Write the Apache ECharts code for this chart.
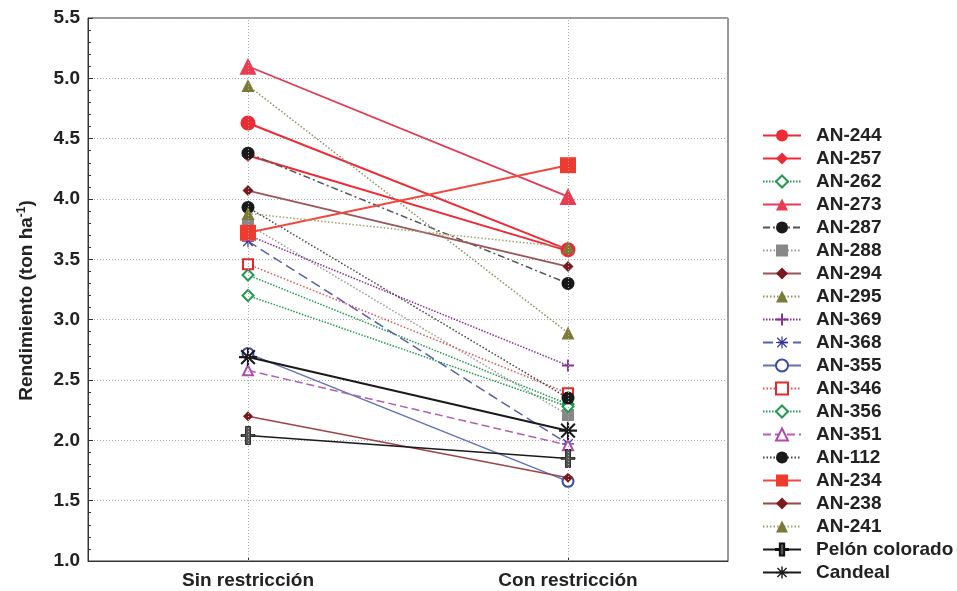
<!DOCTYPE html>
<html><head><meta charset="utf-8">
<script src="https://cdn.jsdelivr.net/npm/echarts@6/dist/echarts.min.js"></script>
<style>html,body{margin:0;padding:0;background:#fff}#c{width:957px;height:591px}</style>
</head><body><div id="c"></div>
<script>
const categories = ['Sin restricción', 'Con restricción'];
const yTicks = [1.0, 1.5, 2.0, 2.5, 3.0, 3.5, 4.0, 4.5, 5.0, 5.5];
const names = ['AN-244','AN-257','AN-262','AN-273','AN-287','AN-288','AN-294','AN-295','AN-369','AN-368','AN-355','AN-346','AN-356','AN-351','AN-112','AN-234','AN-238','AN-241','Pelón colorado','Candeal'];
const an244 = [4.63, 3.58];
const an257 = [4.36, 3.57];
const an262 = [3.37, 2.30];
const an273 = [5.10, 4.02];
const an287 = [4.38, 3.30];
const an288 = [3.79, 2.21];
const an294 = [4.07, 3.44];
const an295 = [4.94, 2.89];
const an369 = [3.70, 2.62];
const an368 = [3.65, 1.97];
const an355 = [2.72, 1.66];
const an346 = [3.46, 2.39];
const an356 = [3.20, 2.28];
const an351 = [2.58, 1.96];
const an112 = [3.93, 2.35];
const an234 = [3.72, 4.28];
const an238 = [2.20, 1.69];
const an241 = [3.88, 3.60];
const pelon = [2.04, 1.85];
const candeal = [2.69, 2.08];
const values = [an244, an257, an262, an273, an287, an288, an294, an295, an369, an368, an355, an346, an356, an351, an112, an234, an238, an241, pelon, candeal];

const PLUS = 'path://M4.2,0 L5.8,0 L5.8,4.2 L10,4.2 L10,5.8 L5.8,5.8 L5.8,10 L4.2,10 L4.2,5.8 L0,5.8 L0,4.2 L4.2,4.2 Z';
const STAR = 'path://M4.5,0 L5.5,0 L5.5,10 L4.5,10 Z M0,4.5 L10,4.5 L10,5.5 L0,5.5 Z M0.7,1.4 L1.4,0.7 L9.3,8.6 L8.6,9.3 Z M8.6,0.7 L9.3,1.4 L1.4,9.3 L0.7,8.6 Z';
const STAR6 = 'path://M4.4,0 L5.6,0 L5.6,10 L4.4,10 Z M0,4.4 L10,4.4 L10,5.6 L0,5.6 Z M0.8,1.6 L1.6,0.8 L9.2,8.4 L8.4,9.2 Z M8.4,0.8 L9.2,1.6 L1.6,9.2 L0.8,8.4 Z';
const PELON = 'path://M3.2,0 L6.8,0 L6.8,4.5 L10,4.5 L10,5.5 L6.8,5.5 L6.8,10 L3.2,10 L3.2,5.5 L0,5.5 L0,4.5 L3.2,4.5 Z';

const styles = [
  {c:'#ee2a35', lc:'#ee2a35', t:'solid', w:2, s:'circle'},
  {c:'#ee2a35', lc:'#ee2a35', t:'solid', w:2, s:'diamond'},
  {c:'#1f9a4e', lc:'#1f9a4e', t:[1.5,1.5], w:1.5, s:'emptyDiamond'},
  {c:'#ee3a50', lc:'#e33a55', t:'solid', w:1.8, s:'triangle'},
  {c:'#1a1a1a', lc:'#555', t:[7,3,2,3], w:1.5, s:'circle'},
  {c:'#888', lc:'#999', t:[1.5,2], w:1.5, s:'rect'},
  {c:'#7a1a1f', lc:'#9b5555', t:'solid', w:1.8, s:'diamond'},
  {c:'#7b7b36', lc:'#8f8f60', t:[1.5,2], w:1.5, s:'triangle'},
  {c:'#8a2c98', lc:'#8a2c98', t:[1.5,1.5], w:1.5, s:PLUS},
  {c:'#33379c', lc:'#5a5eb0', t:[10,5], w:1.5, s:STAR},
  {c:'#3a4aa8', lc:'#6070b8', t:'solid', w:1.3, s:'emptyCircle'},
  {c:'#e02a30', lc:'#e05050', t:[1.5,2], w:1.5, s:'emptyRect'},
  {c:'#1f9a4e', lc:'#1f9a4e', t:[1.5,1.5], w:1.5, s:'emptyDiamond'},
  {c:'#b04ab0', lc:'#b060b0', t:[8,4], w:1.5, s:'emptyTriangle'},
  {c:'#1a1a1a', lc:'#444', t:[1.5,2], w:1.5, s:'circle'},
  {c:'#f03a30', lc:'#f04a40', t:'solid', w:2, s:'rect'},
  {c:'#7a1a1f', lc:'#9b4545', t:'solid', w:1.5, s:'diamond'},
  {c:'#7b7b36', lc:'#a0a070', t:[1.5,2], w:1.5, s:'triangle'},
  {c:'#555', lc:'#1a1a1a', t:'solid', w:1.5, s:PELON},
  {c:'#1a1a1a', lc:'#1a1a1a', t:'solid', w:2, s:STAR6}
];
const sizes = [15, 13, 11, 17, 13, 12, 11, 13, 12, 12, 11, 10, 11, 10, 13, 16, 10, 13, [14, 18], 18];

const series = names.map((n, i) => {
  const st = styles[i];
  const o = {
    name: n, type: 'line', data: values[i],
    symbol: st.s, symbolSize: sizes[i], showAllSymbol: true,
    lineStyle: {color: st.lc, type: st.t, width: st.w},
    itemStyle: {color: st.c, borderWidth: st.s.indexOf('empty') === 0 ? 1.6 : (i === 18 ? 0.8 : 0), borderColor: i === 18 ? '#111' : undefined},
    animation: false
  };
  if (i === 0) {
    o.markLine = {
      silent: true, symbol: 'none', label: {show: false},
      lineStyle: {color: '#aaa', type: [1, 2], width: 1},
      data: [{xAxis: 0}, {xAxis: 1}], animation: false
    };
  }
  return o;
});

const chart = echarts.init(document.getElementById('c'));
const F = 'Liberation Sans, Arial, sans-serif';
chart.setOption({
  animation: false,
  backgroundColor: '#fff',
  grid: {left: 88, right: 229, top: 18, bottom: 30, show: true, borderColor: '#333', borderWidth: 1},
  legend: {
    orient: 'vertical', left: 757, top: 121, itemWidth: 38, itemHeight: 15, itemGap: 4,
    textStyle: {fontFamily: F, fontWeight: 'bold', fontSize: 19, color: '#222', padding: [0, 0, 0, 10]},
    data: names
  },
  xAxis: {
    type: 'category', data: categories,
    axisLine: {lineStyle: {color: '#333'}},
    axisTick: {show: true, alignWithLabel: true, inside: true, length: 4, lineStyle: {color: '#333'}},
    axisLabel: {fontFamily: F, fontWeight: 'bold', fontSize: 19, color: '#222', margin: 10},
    splitLine: {show: false}
  },
  yAxis: {
    type: 'value', min: 1.0, max: 5.5, interval: 0.5,
    name: '{a|Rendimiento (ton ha}{s|-1}{a|)}',
    nameLocation: 'middle', nameGap: 50, nameRotate: 90,
    nameTextStyle: {padding: [0, 22, 0, 0], rich: {
      a: {fontFamily: F, fontWeight: 'bold', fontSize: 19, color: '#222'},
      s: {fontFamily: F, fontWeight: 'bold', fontSize: 12, color: '#222', verticalAlign: 'top', padding: [0, 0, 10, 0]}
    }},
    axisLine: {show: true, lineStyle: {color: '#333'}},
    axisTick: {show: true, inside: true, length: 5, lineStyle: {color: '#333'}},
    minorTick: {show: true, splitNumber: 5, length: 3, lineStyle: {color: '#333'}},
    axisLabel: {fontFamily: F, fontWeight: 'bold', fontSize: 19, color: '#222', margin: 8,
      formatter: v => yTicks.indexOf(v) >= 0 ? v.toFixed(1) : ''},
    splitLine: {show: true, lineStyle: {color: '#aaa', type: [1, 2], width: 1}}
  },
  series: series
});
</script></body></html>
